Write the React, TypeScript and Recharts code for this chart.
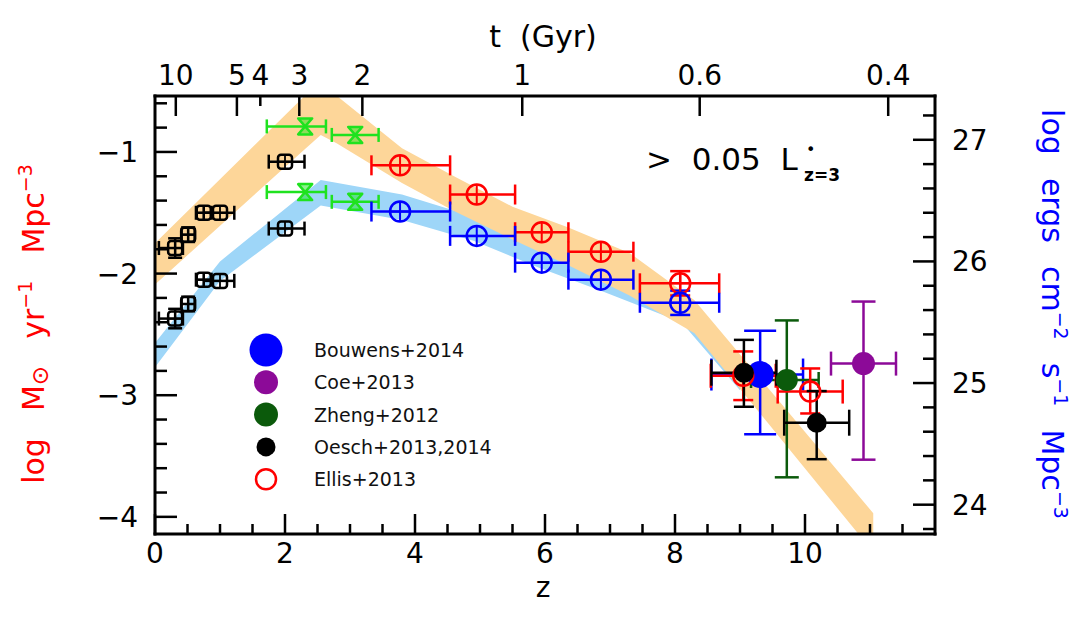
import React from 'react';
import { Area, ComposedChart, ErrorBar, Scatter, XAxis, YAxis } from 'recharts';

const FONT = '"DejaVu Sans", sans-serif';

// bottom axis (redshift)
const zTicks = [0, 0.5, 1, 1.5, 2, 2.5, 3, 3.5, 4, 4.5, 5, 5.5, 6, 6.5, 7, 7.5, 8, 8.5, 9, 9.5, 10, 10.5, 11, 11.5];
const zLabels = [0, 2, 4, 6, 8, 10];

// top axis (cosmic time in Gyr), placed at the matching redshift
const ageTickZ = [0.32, 1.26, 1.62, 2.22, 3.19, 5.65, 8.38, 11.28];
const ageTickLabels = ['10', '5', '4', '3', '2', '1', '0.6', '0.4'];
const ageShortTicks = ['4'];

// left axis: log SFR density, right axis: log UV luminosity density
const sfrTicks = [-4, -3.8, -3.6, -3.4, -3.2, -3, -2.8, -2.6, -2.4, -2.2, -2, -1.8, -1.6, -1.4, -1.2, -1, -0.8, -0.6];
const lumTicks = [23.8, 24, 24.2, 24.4, 24.6, 24.8, 25, 25.2, 25.4, 25.6, 25.8, 26, 26.2, 26.4, 26.6, 26.8, 27, 27.2];
const sfrDomain = [-4.141, -0.54];
const lumDomain = [23.759, 27.36];

// dust-corrected SFR band (left axis)
const sfrBandZ = [0, 2.3, 2.55, 2.8, 3.8, 4.6, 5.5, 6.35, 7.3, 8.3, 11.05];
const sfrBandHi = [-1.75, -0.54, -0.52, -0.54, -0.97, -1.2, -1.45, -1.62, -1.83, -2.22, -3.97];
const sfrBandLo = [-2.09, -0.98, -0.86, -0.93, -1.255, -1.485, -1.72, -1.93, -2.18, -2.49, -4.29];

// uncorrected luminosity band (right axis)
const lumBandZ = [0, 1.0, 2.55, 3.8, 4.9, 5.9, 6.9, 8.1, 9.0];
const lumBandHi = [25.33, 26.0, 26.67, 26.55, 26.37, 26.15, 25.95, 25.71, 25.14];
const lumBandLo = [25.13, 25.84, 26.46, 26.34, 26.17, 25.95, 25.75, 25.5, 24.94];

// low-z black squares
const lowZ = [0.31, 0.51, 0.75, 1.0, 2.0];
const lowSfr = [-1.79, -1.68, -1.5, -1.5, -1.08];
const lowLum = [25.53, 25.65, 25.85, 25.84, 26.27];
const lowZErr = [[0.25, 0.12], [0.1, 0.1], [0.12, 0.12], [0.25, 0.22], [0.25, 0.3]];
const lowYErr = [0.08, 0.06, 0, 0, 0];

// z~2-3 green points
const midZ = [2.31, 3.08];
const midSfr = [-0.79, -0.86];
const midLum = [26.57, 26.49];
const midZErr = [[0.59, 0.32], [0.36, 0.36]];

// z~4-8 circles
const hiZ = [3.77, 4.95, 5.95, 6.86, 8.08];
const hiSfr = [-1.11, -1.35, -1.66, -1.82, -2.08];
const hiLum = [26.41, 26.21, 25.99, 25.85, 25.66];
const hiZErr = [[0.44, 0.77], [0.41, 0.59], [0.41, 0.41], [0.5, 0.5], [0.62, 0.6]];
const hiYErr = [0, 0, 0, 0, 0.1];

// z>9 measurements
const bouwensZ = [9.31];
const bouwensSfr = [-2.83];
const bouwensZErr = [[0.75, 0.66]];
const bouwensYErr = [[0.49, 0.36]];

const zhengZ = [9.72];
const zhengSfr = [-2.875];
const zhengZErr = [[0.55, 0.49]];
const zhengYErr = [[0.8, 0.49]];

const ellisZ = [9.05, 10.08];
const ellisSfr = [-2.84, -2.97];
const ellisZErr = [[0.5, 0.5], [0.5, 0.5]];
const ellisYErr = [[0.2, 0.2], [0.18, 0.19]];

const oeschZ = [9.06, 10.18];
const oeschSfr = [-2.815, -3.226];
const oeschZErr = [[0.5, 0.5], [0.5, 0.5]];
const oeschYErr = [[0.28, 0.27], [0.3, 0.26]];

const coeZ = [10.9];
const coeSfr = [-2.74];
const coeZErr = [[0.5, 0.5]];
const coeYErr = [[0.79, 0.51]];

const legendNames = ['Bouwens+2014', 'Coe+2013', 'Zheng+2012', 'Oesch+2013,2014', 'Ellis+2013'];

const RED = '#FF0000';
const BLUE = '#0000FF';
const GREEN = '#1FE21F';
const DKGREEN = '#0B5A0B';
const PURPLE = '#8C0A98';
const legendColors = [BLUE, PURPLE, DKGREEN, '#000000', RED];
const legendRadius = [16.5, 12, 12, 9.5, 10];

type Err = number | number[];
const toPoints = (zs: number[], vs: number[], ex?: Err[], ey?: Err[]) =>
  zs.map((z, i) => ({ z, v: vs[i], ex: ex ? ex[i] : 0, ey: ey ? ey[i] : 0 }));
const toBand = (zs: number[], lo: number[], hi: number[]) =>
  zs.map((z, i) => ({ z, band: [lo[i], hi[i]] }));

const sfrBand = toBand(sfrBandZ, sfrBandLo, sfrBandHi);
const lumBand = toBand(lumBandZ, lumBandLo, lumBandHi);

const fmt = (v: number) => (v < 0 ? '\u2212' + Math.abs(v) : String(v));

function LeftTick(p: any) {
  const { x, y, payload } = p;
  const major = Number.isInteger(payload.value);
  return (
    <g>
      <line x1={x} x2={x + (major ? 22 : 12)} y1={y} y2={y} stroke="#000" strokeWidth={2.5} />
      {major && (
        <text x={x - 17} y={y + 10} textAnchor="end" fontSize={28} fontFamily={FONT} fill="#000">
          {fmt(payload.value)}
        </text>
      )}
    </g>
  );
}

function RightTick(p: any) {
  const { x, y, payload } = p;
  const major = Number.isInteger(payload.value);
  return (
    <g>
      <line x1={x} x2={x - (major ? 22 : 12)} y1={y} y2={y} stroke="#000" strokeWidth={2.5} />
      {major && (
        <text x={x + 17} y={y + 10} textAnchor="start" fontSize={28} fontFamily={FONT} fill="#000">
          {fmt(payload.value)}
        </text>
      )}
    </g>
  );
}

function BottomTick(p: any) {
  const { x, y, payload } = p;
  const major = zLabels.includes(payload.value);
  return (
    <g>
      <line x1={x} x2={x} y1={y} y2={y - (major ? 20 : 10)} stroke="#000" strokeWidth={2.5} />
      {major && (
        <text x={x} y={y + 29} textAnchor="middle" fontSize={28} fontFamily={FONT} fill="#000">
          {fmt(payload.value)}
        </text>
      )}
    </g>
  );
}

function TopTick(p: any) {
  const { x, y, index } = p;
  const label = ageTickLabels[index];
  const short = ageShortTicks.includes(label);
  return (
    <g>
      <line x1={x} x2={x} y1={y} y2={y + (short ? 10 : 20)} stroke="#000" strokeWidth={2.5} />
      <text x={x} y={y - 11} textAnchor="middle" fontSize={28} fontFamily={FONT} fill="#000">
        {label}
      </text>
    </g>
  );
}

const crossCircle = (color: string) => (p: any) => (
  <g>
    <circle cx={p.cx} cy={p.cy} r={10} fill="none" stroke={color} strokeWidth={2.5} />
    <line x1={p.cx - 10} x2={p.cx + 10} y1={p.cy} y2={p.cy} stroke={color} strokeWidth={2} />
    <line x1={p.cx} x2={p.cx} y1={p.cy - 10} y2={p.cy + 10} stroke={color} strokeWidth={2} />
  </g>
);

const crossSquare = (p: any) => (
  <g>
    <rect x={p.cx - 7} y={p.cy - 7} width={14} height={14} rx={3} fill="none" stroke="#000" strokeWidth={2.5} />
    <line x1={p.cx - 7} x2={p.cx + 7} y1={p.cy} y2={p.cy} stroke="#000" strokeWidth={1.8} />
    <line x1={p.cx} x2={p.cx} y1={p.cy - 7} y2={p.cy + 7} stroke="#000" strokeWidth={1.8} />
  </g>
);

const hourglass = (p: any) => (
  <path
    d={`M${p.cx - 7},${p.cy - 8} L${p.cx + 7},${p.cy - 8} L${p.cx - 7},${p.cy + 8} L${p.cx + 7},${p.cy + 8} Z`}
    fill={GREEN}
    fillOpacity={0.5}
    stroke={GREEN}
    strokeWidth={2.5}
    strokeLinejoin="round"
  />
);

const dot = (color: string, r: number) => (p: any) => <circle cx={p.cx} cy={p.cy} r={r} fill={color} />;
const ring = (color: string, r: number) => (p: any) => (
  <circle cx={p.cx} cy={p.cy} r={r} fill="none" stroke={color} strokeWidth={2.5} />
);

const frame = { stroke: '#000', strokeWidth: 3, strokeLinecap: 'square' as const };

export default function App() {
  return (
    <div style={{ position: 'absolute', left: 0, top: 0, width: 1074, height: 617, background: '#fff' }}>
      <ComposedChart width={1074} height={617} margin={{ top: 66, right: 89, bottom: 53, left: 105 }}>
        <XAxis
          xAxisId="bottom"
          type="number"
          dataKey="z"
          domain={[0, 12]}
          allowDataOverflow
          ticks={zTicks}
          interval={0}
          tickSize={0}
          tickMargin={0}
          tickLine={false}
          axisLine={frame}
          height={30}
          tick={(p: any) => <BottomTick {...p} />}
        />
        <XAxis
          xAxisId="top"
          orientation="top"
          type="number"
          dataKey="z"
          domain={[0, 12]}
          allowDataOverflow
          ticks={ageTickZ}
          interval={0}
          tickSize={0}
          tickMargin={0}
          tickLine={false}
          axisLine={frame}
          height={30}
          tick={(p: any) => <TopTick {...p} />}
        />
        <YAxis
          yAxisId="left"
          type="number"
          domain={sfrDomain}
          allowDataOverflow
          ticks={sfrTicks}
          interval={0}
          tickSize={0}
          tickMargin={0}
          tickLine={false}
          axisLine={frame}
          width={50}
          tick={(p: any) => <LeftTick {...p} />}
        />
        <YAxis
          yAxisId="right"
          orientation="right"
          type="number"
          domain={lumDomain}
          allowDataOverflow
          ticks={lumTicks}
          interval={0}
          tickSize={0}
          tickMargin={0}
          tickLine={false}
          axisLine={frame}
          width={50}
          tick={(p: any) => <RightTick {...p} />}
        />

        <Area
          data={lumBand}
          dataKey="band"
          xAxisId="bottom"
          yAxisId="right"
          type="linear"
          stroke="none"
          fill="#9ED6F8"
          fillOpacity={1}
          isAnimationActive={false}
        />
        <Area
          data={sfrBand}
          dataKey="band"
          xAxisId="bottom"
          yAxisId="left"
          type="linear"
          stroke="none"
          fill="#FDD699"
          fillOpacity={1}
          isAnimationActive={false}
        />

        <Scatter data={toPoints(lowZ, lowLum, lowZErr, lowYErr)} dataKey="v" xAxisId="bottom" yAxisId="right" shape={crossSquare} isAnimationActive={false}>
          <ErrorBar dataKey="ex" direction="x" stroke="#000" strokeWidth={2.5} width={7} />
          <ErrorBar dataKey="ey" direction="y" stroke="#000" strokeWidth={2.5} width={7} />
        </Scatter>
        <Scatter data={toPoints(lowZ, lowSfr, lowZErr, lowYErr)} dataKey="v" xAxisId="bottom" yAxisId="left" shape={crossSquare} isAnimationActive={false}>
          <ErrorBar dataKey="ex" direction="x" stroke="#000" strokeWidth={2.5} width={7} />
          <ErrorBar dataKey="ey" direction="y" stroke="#000" strokeWidth={2.5} width={7} />
        </Scatter>
        <Scatter data={toPoints(midZ, midSfr, midZErr)} dataKey="v" xAxisId="bottom" yAxisId="left" shape={hourglass} isAnimationActive={false}>
          <ErrorBar dataKey="ex" direction="x" stroke={GREEN} strokeWidth={2.5} width={7} />
        </Scatter>
        <Scatter data={toPoints(midZ, midLum, midZErr)} dataKey="v" xAxisId="bottom" yAxisId="right" shape={hourglass} isAnimationActive={false}>
          <ErrorBar dataKey="ex" direction="x" stroke={GREEN} strokeWidth={2.5} width={7} />
        </Scatter>
        <Scatter data={toPoints(hiZ, hiSfr, hiZErr, hiYErr)} dataKey="v" xAxisId="bottom" yAxisId="left" shape={crossCircle(RED)} isAnimationActive={false}>
          <ErrorBar dataKey="ex" direction="x" stroke={RED} strokeWidth={2.5} width={10} />
          <ErrorBar dataKey="ey" direction="y" stroke={RED} strokeWidth={2.5} width={10} />
        </Scatter>
        <Scatter data={toPoints(hiZ, hiLum, hiZErr, hiYErr)} dataKey="v" xAxisId="bottom" yAxisId="right" shape={crossCircle(BLUE)} isAnimationActive={false}>
          <ErrorBar dataKey="ex" direction="x" stroke={BLUE} strokeWidth={2.5} width={10} />
          <ErrorBar dataKey="ey" direction="y" stroke={BLUE} strokeWidth={2.5} width={10} />
        </Scatter>

        <Scatter data={toPoints(bouwensZ, bouwensSfr, bouwensZErr, bouwensYErr)} dataKey="v" xAxisId="bottom" yAxisId="left" shape={dot(BLUE, 13.5)} isAnimationActive={false}>
          <ErrorBar dataKey="ex" direction="x" stroke={BLUE} strokeWidth={2.5} width={16} />
          <ErrorBar dataKey="ey" direction="y" stroke={BLUE} strokeWidth={2.5} width={16} />
        </Scatter>
        <Scatter data={toPoints(zhengZ, zhengSfr, zhengZErr, zhengYErr)} dataKey="v" xAxisId="bottom" yAxisId="left" shape={dot(DKGREEN, 11)} isAnimationActive={false}>
          <ErrorBar dataKey="ex" direction="x" stroke={DKGREEN} strokeWidth={2.5} width={8} />
          <ErrorBar dataKey="ey" direction="y" stroke={DKGREEN} strokeWidth={2.5} width={12} />
        </Scatter>
        <Scatter data={toPoints(ellisZ, ellisSfr, ellisZErr, ellisYErr)} dataKey="v" xAxisId="bottom" yAxisId="left" shape={ring(RED, 10)} isAnimationActive={false}>
          <ErrorBar dataKey="ex" direction="x" stroke={RED} strokeWidth={2.5} width={12} />
          <ErrorBar dataKey="ey" direction="y" stroke={RED} strokeWidth={2.5} width={10} />
        </Scatter>
        <Scatter data={toPoints(oeschZ, oeschSfr, oeschZErr, oeschYErr)} dataKey="v" xAxisId="bottom" yAxisId="left" shape={dot('#000', 10)} isAnimationActive={false}>
          <ErrorBar dataKey="ex" direction="x" stroke="#000" strokeWidth={2.5} width={13} />
          <ErrorBar dataKey="ey" direction="y" stroke="#000" strokeWidth={2.5} width={10} />
        </Scatter>
        <Scatter data={toPoints(coeZ, coeSfr, coeZErr, coeYErr)} dataKey="v" xAxisId="bottom" yAxisId="left" shape={dot(PURPLE, 11.5)} isAnimationActive={false}>
          <ErrorBar dataKey="ex" direction="x" stroke={PURPLE} strokeWidth={2.5} width={12} />
          <ErrorBar dataKey="ey" direction="y" stroke={PURPLE} strokeWidth={2.5} width={12} />
        </Scatter>
      </ComposedChart>

      <svg
        width={1074}
        height={617}
        style={{ position: 'absolute', left: 0, top: 0, pointerEvents: 'none' }}
        fontFamily={FONT}
      >
        <text x={543} y={47} textAnchor="middle" fontSize={30} fill="#000" style={{ whiteSpace: 'pre' }}>
          t  (Gyr)
        </text>
        <text x={543} y={597} textAnchor="middle" fontSize={28} fill="#000">
          z
        </text>

        <text
          transform="translate(44,324) rotate(-90)"
          textAnchor="middle"
          fontSize={30}
          fill={RED}
          style={{ whiteSpace: 'pre', wordSpacing: 4 }}
        >
          {'log  M'}
          <tspan dy={4} fontSize={23}>⊙</tspan>
          <tspan dy={-4}>{'  yr'}</tspan>
          <tspan dy={-12} fontSize={19}>−1</tspan>
          <tspan dy={12}>{'  Mpc'}</tspan>
          <tspan dy={-12} fontSize={19}>−3</tspan>
        </text>

        <text
          transform="translate(1042,314) rotate(90)"
          textAnchor="middle"
          fontSize={30}
          fill={BLUE}
          style={{ whiteSpace: 'pre', wordSpacing: 2 }}
        >
          {'log  ergs  cm'}
          <tspan dy={-12} fontSize={19}>−2</tspan>
          <tspan dy={12}>{'  s'}</tspan>
          <tspan dy={-12} fontSize={19}>−1</tspan>
          <tspan dy={12}>{'  Mpc'}</tspan>
          <tspan dy={-12} fontSize={19}>−3</tspan>
        </text>

        <text x={646} y={170} fontSize={31} fill="#000" style={{ whiteSpace: 'pre' }}>
          {'>  0.05  L'}
        </text>
        <text x={806} y={155} fontSize={16} fill="#000">•</text>
        <text x={804} y={181} fontSize={17} fontWeight="bold" fill="#000">z=3</text>

        {legendNames.map((name, i) => {
          const cy = 350 + i * 32.3;
          const open = name.startsWith('Ellis');
          return (
            <g key={name}>
              <circle
                cx={266}
                cy={cy}
                r={legendRadius[i]}
                fill={open ? 'none' : legendColors[i]}
                stroke={open ? legendColors[i] : 'none'}
                strokeWidth={2.5}
              />
              <text x={314} y={cy + 7} fontSize={19} fill="#111">
                {name}
              </text>
            </g>
          );
        })}
      </svg>
    </div>
  );
}
